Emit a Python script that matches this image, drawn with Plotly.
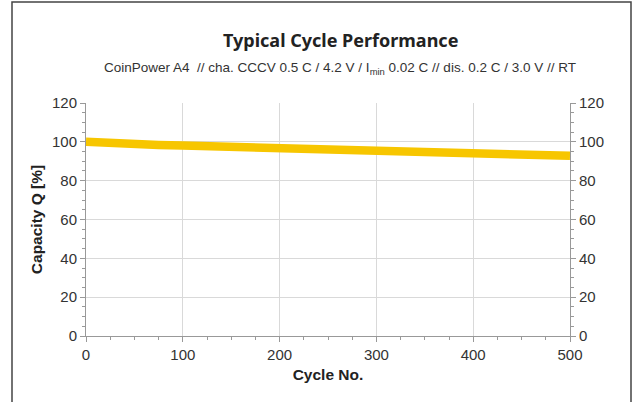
import plotly.graph_objects as go

cycles = [0, 10, 25, 50, 75, 100, 150, 200, 250, 300, 350, 400, 450, 500]
capacity = [100.0, 99.7, 99.3, 98.8, 98.4, 98.1, 97.4, 96.7, 96.1, 95.6, 94.9, 94.2, 93.5, 92.8]

x_ticks = [0, 100, 200, 300, 400, 500]
y_ticks = [0, 20, 40, 60, 80, 100, 120]

title_text = "<b>Typical Cycle Performance</b>"
subtitle_text = "CoinPower A4  // cha. CCCV 0.5 C / 4.2 V / I<sub>min</sub> 0.02 C // dis. 0.2 C / 3.0 V // RT"

fig = go.Figure()
fig.add_trace(go.Scatter(x=cycles, y=capacity, mode="lines",
                         line=dict(color="#F7C600", width=8.5), showlegend=False))
fig.add_trace(go.Scatter(x=cycles, y=capacity, mode="lines", yaxis="y2",
                         line=dict(color="rgba(0,0,0,0)", width=0), showlegend=False,
                         hoverinfo="skip"))

tickfont = dict(family="Liberation Sans, Arial, sans-serif", size=15, color="#333333")
titlefont = dict(family="Liberation Sans, Arial, sans-serif", size=15.5, color="#222222")
axis_common = dict(showline=True, linecolor="#999999", linewidth=1,
                   ticks="outside", ticklen=5, tickcolor="#999999", tickfont=tickfont,
                   zeroline=False)

fig.update_layout(
    width=633, height=402,
    margin=dict(l=86, r=63, t=103, b=66),
    paper_bgcolor="white", plot_bgcolor="white",
    xaxis=dict(range=[0, 500], tickvals=x_ticks, showgrid=True, gridcolor="#D9D9D9",
               minor=dict(dtick=25, tick0=0, ticks="outside", ticklen=3, tickcolor="#999999", showgrid=False),
               title=dict(text="<b>Cycle No.</b>", font=titlefont, standoff=7),
               **axis_common),
    yaxis=dict(range=[0, 120], tickvals=y_ticks, showgrid=True, gridcolor="#D9D9D9",
               minor=dict(dtick=5, tick0=0, ticks="outside", ticklen=3, tickcolor="#999999", showgrid=False),
               title=dict(text="<b>Capacity Q [%]</b>", font=titlefont, standoff=5),
               **axis_common),
    yaxis2=dict(range=[0, 120], tickvals=y_ticks, overlaying="y", side="right", showgrid=False,
                minor=dict(dtick=5, tick0=0, ticks="outside", ticklen=3, tickcolor="#999999", showgrid=False),
                **axis_common),
    annotations=[
        dict(text=title_text, xref="paper", yref="paper", x=0.525, y=(336 - 40) / 233,
             showarrow=False, xanchor="center", yanchor="middle",
             font=dict(family="Noto Sans, sans-serif", size=18, color="#222222")),
        dict(text=subtitle_text, xref="paper", yref="paper", x=0.525, y=(336 - 68) / 233,
             showarrow=False, xanchor="center", yanchor="middle",
             font=dict(family="Liberation Sans, Arial, sans-serif", size=13.5, color="#333333")),
    ],
    shapes=[
        dict(type="rect", xref="paper", yref="paper",
             x0=(12 - 86) / 484, x1=(631 - 86) / 484,
             y0=(336 - 410) / 233, y1=(336 - 2) / 233,
             line=dict(color="#444444", width=1.5), fillcolor="rgba(0,0,0,0)", layer="below"),
    ],
)

fig.write_html("out.html", config={"displayModeBar": False},
               post_script="document.body.style.margin='0';")
